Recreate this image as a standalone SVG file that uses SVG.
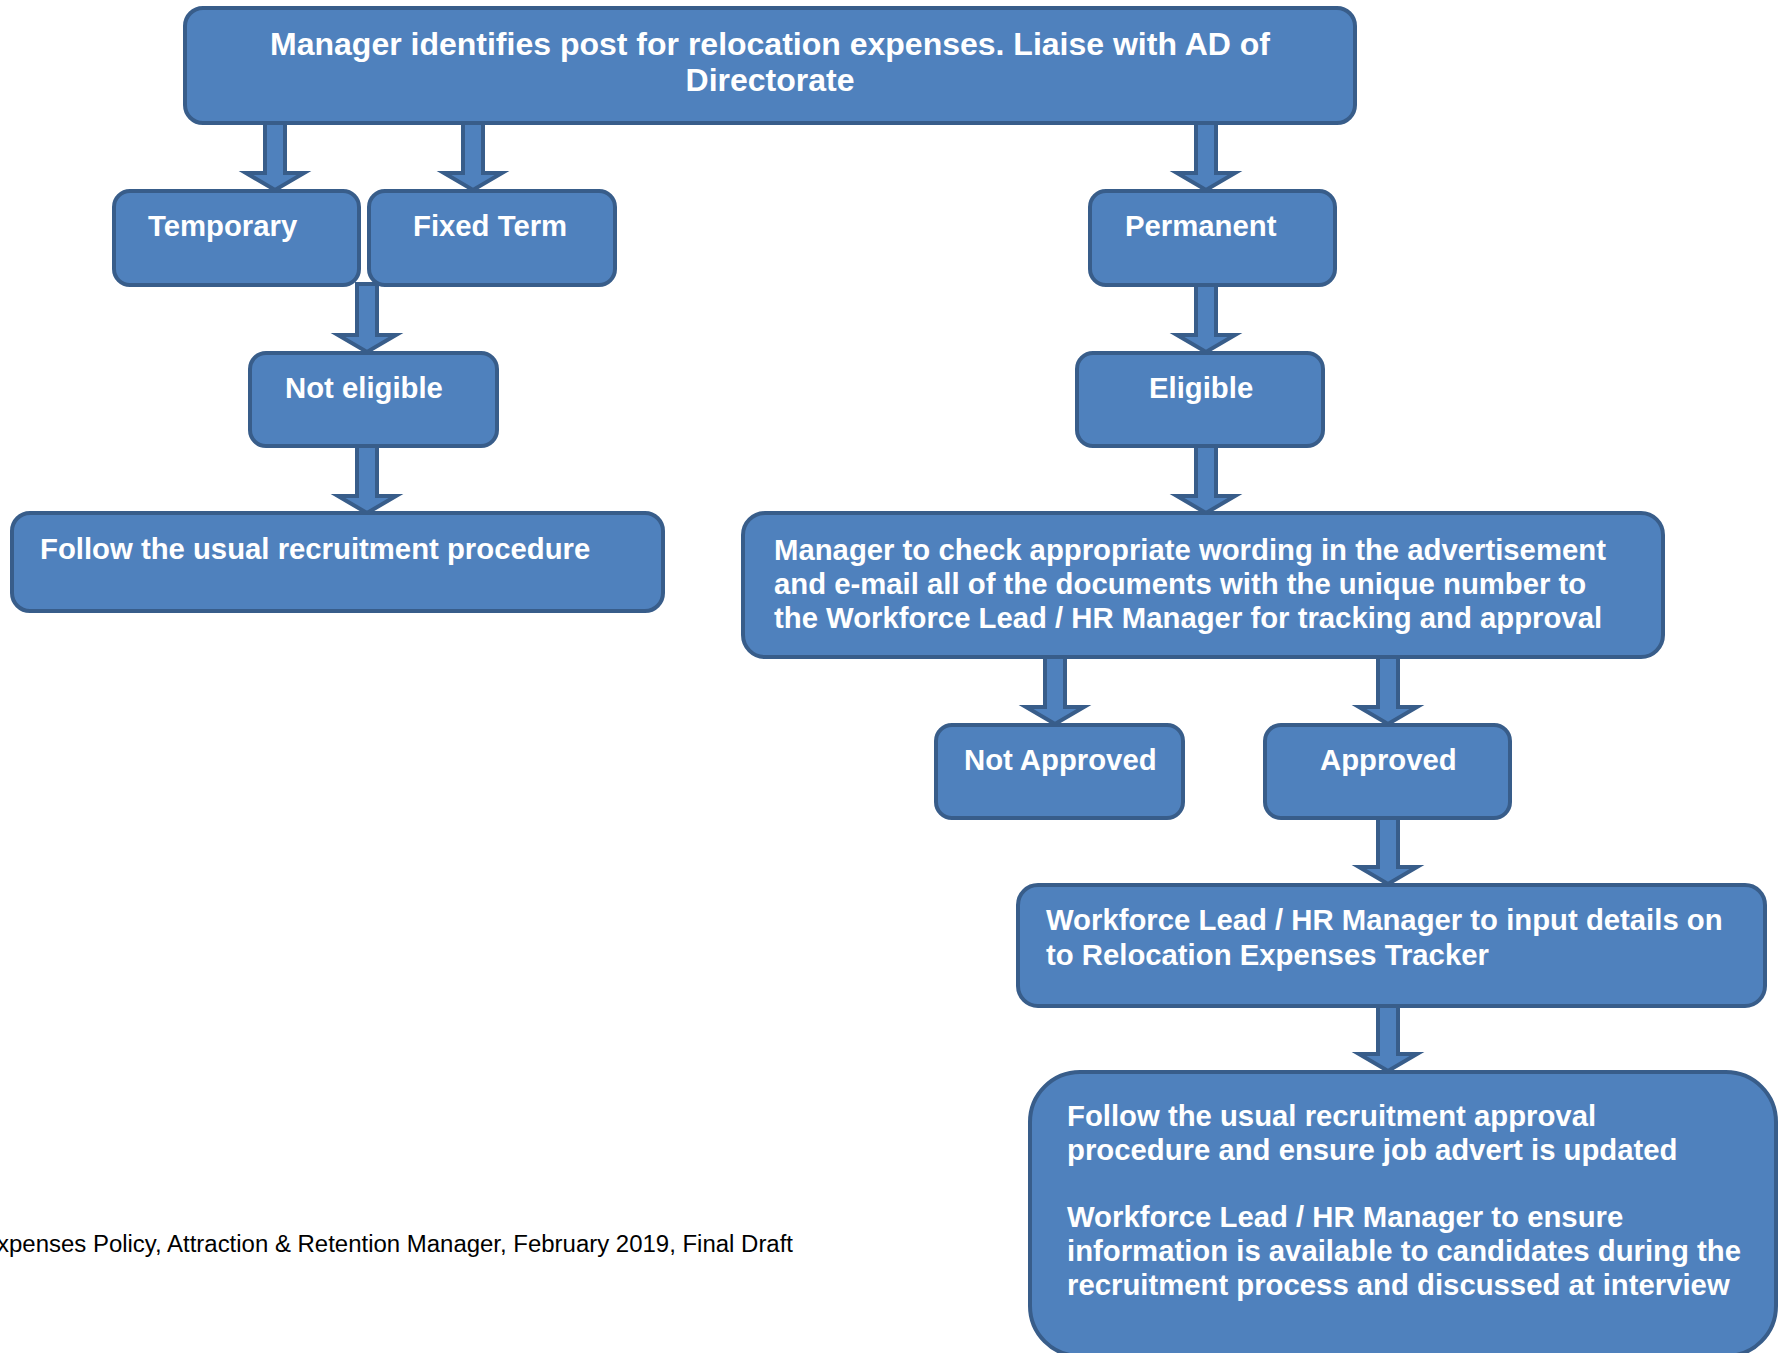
<svg xmlns="http://www.w3.org/2000/svg" width="1782" height="1353" viewBox="0 0 1782 1353">
<style>
.box{fill:#4F81BD;stroke:#385D8A;stroke-width:4}
.arr{fill:#4F81BD;stroke:#385D8A;stroke-width:4;stroke-linejoin:miter}
.t{font-family:"Liberation Sans",Arial,sans-serif;font-weight:bold;font-size:29.3px;fill:#FFFFFF}
.tt{font-size:32px}
.foot{font-family:"Liberation Sans",Arial,sans-serif;font-size:23px;fill:#000000}
</style>
<rect width="1782" height="1353" fill="#FFFFFF"/>
<g id="connectors">
<path class="arr" d="M265,121 L285,121 L285,173 L304,173 L275,190 L246,173 L265,173 Z"/>
<path class="arr" d="M463,121 L483,121 L483,173 L502,173 L473,190 L444,173 L463,173 Z"/>
<path class="arr" d="M1196,121 L1216,121 L1216,173 L1235,173 L1206,190 L1177,173 L1196,173 Z"/>
<path class="arr" d="M357,284 L377,284 L377,335 L396,335 L367,352 L338,335 L357,335 Z"/>
<path class="arr" d="M357,446 L377,446 L377,496 L396,496 L367,513 L338,496 L357,496 Z"/>
<path class="arr" d="M1196,284 L1216,284 L1216,335 L1235,335 L1206,352 L1177,335 L1196,335 Z"/>
<path class="arr" d="M1196,446 L1216,446 L1216,496 L1235,496 L1206,513 L1177,496 L1196,496 Z"/>
<path class="arr" d="M1045,657 L1065,657 L1065,707 L1084,707 L1055,724 L1026,707 L1045,707 Z"/>
<path class="arr" d="M1378,657 L1398,657 L1398,707 L1417,707 L1388,724 L1359,707 L1378,707 Z"/>
<path class="arr" d="M1378,817 L1398,817 L1398,867 L1417,867 L1388,884 L1359,867 L1378,867 Z"/>
<path class="arr" d="M1378,1006 L1398,1006 L1398,1054 L1417,1054 L1388,1071 L1359,1054 L1378,1054 Z"/>
</g>
<g id="n-top">
<rect class="box" x="185" y="8" width="1170" height="115" rx="18"/>
<text class="t tt" x="770" y="55" text-anchor="middle">Manager identifies post for relocation expenses. Liaise with AD of</text>
<text class="t tt" x="770" y="91" text-anchor="middle">Directorate</text>
</g>
<g id="n-temporary">
<rect class="box" x="114" y="191" width="245" height="94" rx="16"/>
<text class="t" x="148" y="236">Temporary</text>
</g>
<g id="n-fixed">
<rect class="box" x="369" y="191" width="246" height="94" rx="16"/>
<text class="t" x="413" y="236">Fixed Term</text>
</g>
<g id="n-permanent">
<rect class="box" x="1090" y="191" width="245" height="94" rx="16"/>
<text class="t" x="1125" y="236">Permanent</text>
</g>
<g id="n-noteligible">
<rect class="box" x="250" y="353" width="247" height="93" rx="16"/>
<text class="t" x="285" y="398">Not eligible</text>
</g>
<g id="n-eligible">
<rect class="box" x="1077" y="353" width="246" height="93" rx="16"/>
<text class="t" x="1149" y="398">Eligible</text>
</g>
<g id="n-follow">
<rect class="box" x="12" y="513" width="651" height="98" rx="18"/>
<text class="t" x="40" y="559">Follow the usual recruitment procedure</text>
</g>
<g id="n-check">
<rect class="box" x="743" y="513" width="920" height="144" rx="22"/>
<text class="t" x="774" y="560">Manager to check appropriate wording in the advertisement</text>
<text class="t" x="774" y="594">and e-mail all of the documents with the unique number to</text>
<text class="t" x="774" y="628">the Workforce Lead / HR Manager for tracking and approval</text>
</g>
<g id="n-notapproved">
<rect class="box" x="936" y="725" width="247" height="93" rx="16"/>
<text class="t" x="964" y="770">Not Approved</text>
</g>
<g id="n-approved">
<rect class="box" x="1265" y="725" width="245" height="93" rx="16"/>
<text class="t" x="1320" y="770">Approved</text>
</g>
<g id="n-workforce">
<rect class="box" x="1018" y="885" width="747" height="121" rx="20"/>
<text class="t" x="1046" y="930">Workforce Lead / HR Manager to input details on</text>
<text class="t" x="1046" y="965">to Relocation Expenses Tracker</text>
</g>
<g id="n-final">
<rect class="box" x="1030" y="1072" width="746" height="284" rx="50"/>
<text class="t" x="1067" y="1126">Follow the usual recruitment approval</text>
<text class="t" x="1067" y="1160">procedure and ensure job advert is updated</text>
<text class="t" x="1067" y="1227">Workforce Lead / HR Manager to ensure</text>
<text class="t" x="1067" y="1261">information is available to candidates during the</text>
<text class="t" x="1067" y="1295">recruitment process and discussed at interview</text>
</g>
<text class="foot" x="-3" y="1252" textLength="796" lengthAdjust="spacingAndGlyphs">xpenses Policy, Attraction &amp; Retention Manager, February 2019, Final Draft</text>
</svg>
